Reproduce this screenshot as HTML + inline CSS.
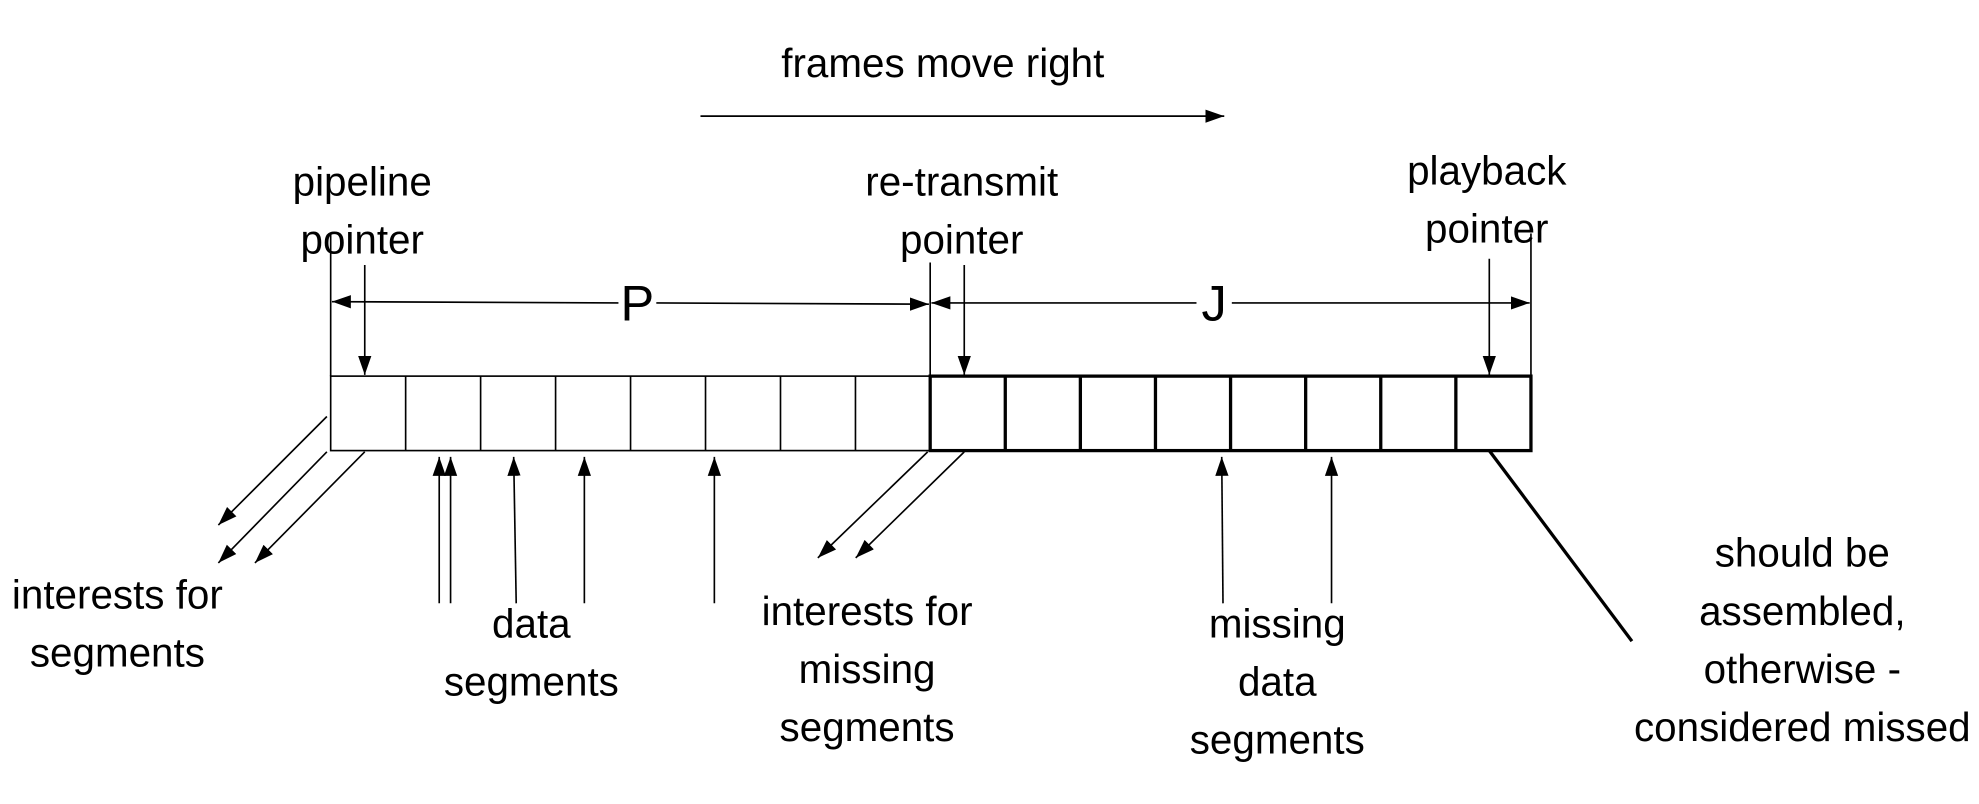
<!DOCTYPE html>
<html><head><meta charset="utf-8"><style>html,body{margin:0;padding:0;background:#fff}svg{display:block}</style></head>
<body>
<svg width="1979" height="804" viewBox="0 0 1568 637" xmlns="http://www.w3.org/2000/svg">
<defs>
<marker id="a" viewBox="0 0 10 10" refX="10" refY="5" markerWidth="15" markerHeight="15" markerUnits="userSpaceOnUse" orient="auto"><path d="M0,1.5 L10,5 L0,8.5 z" fill="#000"/></marker>
</defs>
<g font-family="Liberation Sans, sans-serif" font-size="32" text-anchor="middle" fill="#000">
<text x="747" y="61">frames move right</text>
<text x="287" y="155">pipeline</text><text x="287" y="201">pointer</text>
<text x="762" y="155">re-transmit</text><text x="762" y="201">pointer</text>
<text x="1178" y="146">playback</text><text x="1178" y="192">pointer</text>
<text x="93" y="482">interests for</text><text x="93" y="528">segments</text>
<text x="421" y="505">data</text><text x="421" y="551">segments</text>
<text x="687" y="495">interests for</text><text x="687" y="541">missing</text><text x="687" y="587">segments</text>
<text x="1012" y="505">missing</text><text x="1012" y="551">data</text><text x="1012" y="597">segments</text>
<text x="1428" y="449">should be</text><text x="1428" y="495">assembled,</text><text x="1428" y="541">otherwise -</text><text x="1428" y="587">considered missed</text>
<text x="505" y="254" font-size="40">P</text>
<text x="962" y="254" font-size="40">J</text>
</g>
<g stroke="#000" fill="none" stroke-width="1.3">
<line x1="555" y1="92" x2="970" y2="92" marker-end="url(#a)"/>
<line x1="262" y1="185" x2="262" y2="298"/>
<line x1="737" y1="208" x2="737" y2="298"/>
<line x1="1213" y1="185" x2="1213" y2="298"/>
<line x1="490" y1="240" x2="263" y2="239" marker-end="url(#a)"/>
<line x1="520" y1="240" x2="736" y2="241" marker-end="url(#a)"/>
<line x1="948" y1="240" x2="738" y2="240" marker-end="url(#a)"/>
<line x1="976" y1="240" x2="1212" y2="240" marker-end="url(#a)"/>
<line x1="289" y1="210" x2="289" y2="297" marker-end="url(#a)"/>
<line x1="764" y1="210" x2="764" y2="297" marker-end="url(#a)"/>
<line x1="1180" y1="205" x2="1180" y2="297" marker-end="url(#a)"/>
<rect x="262" y="298" width="475" height="59"/>
<line x1="321.4" y1="298" x2="321.4" y2="357"/><line x1="380.8" y1="298" x2="380.8" y2="357"/><line x1="440.2" y1="298" x2="440.2" y2="357"/><line x1="499.6" y1="298" x2="499.6" y2="357"/><line x1="559" y1="298" x2="559" y2="357"/><line x1="618.4" y1="298" x2="618.4" y2="357"/><line x1="677.8" y1="298" x2="677.8" y2="357"/>
<line x1="259" y1="330" x2="173" y2="416" marker-end="url(#a)"/>
<line x1="259" y1="358" x2="173" y2="446" marker-end="url(#a)"/>
<line x1="289" y1="358" x2="202" y2="446" marker-end="url(#a)"/>
<line x1="348" y1="478" x2="348" y2="362" marker-end="url(#a)"/>
<line x1="357" y1="478" x2="357" y2="362" marker-end="url(#a)"/>
<line x1="409" y1="478" x2="407" y2="362" marker-end="url(#a)"/>
<line x1="463" y1="478" x2="463" y2="362" marker-end="url(#a)"/>
<line x1="566" y1="478" x2="566" y2="362" marker-end="url(#a)"/>
<line x1="735" y1="358" x2="648" y2="442" marker-end="url(#a)"/>
<line x1="764" y1="358" x2="678" y2="442" marker-end="url(#a)"/>
<line x1="969" y1="478" x2="968" y2="362" marker-end="url(#a)"/>
<line x1="1055" y1="478" x2="1055" y2="362" marker-end="url(#a)"/>
</g>
<g stroke="#000" fill="none" stroke-width="2.6">
<rect x="737" y="298" width="476" height="59"/>
<line x1="796.5" y1="298" x2="796.5" y2="357"/><line x1="856" y1="298" x2="856" y2="357"/><line x1="915.5" y1="298" x2="915.5" y2="357"/><line x1="975" y1="298" x2="975" y2="357"/><line x1="1034.5" y1="298" x2="1034.5" y2="357"/><line x1="1094" y1="298" x2="1094" y2="357"/><line x1="1153.5" y1="298" x2="1153.5" y2="357"/>
<line x1="1180" y1="357" x2="1293" y2="508"/>
</g>
</svg>
</body></html>
